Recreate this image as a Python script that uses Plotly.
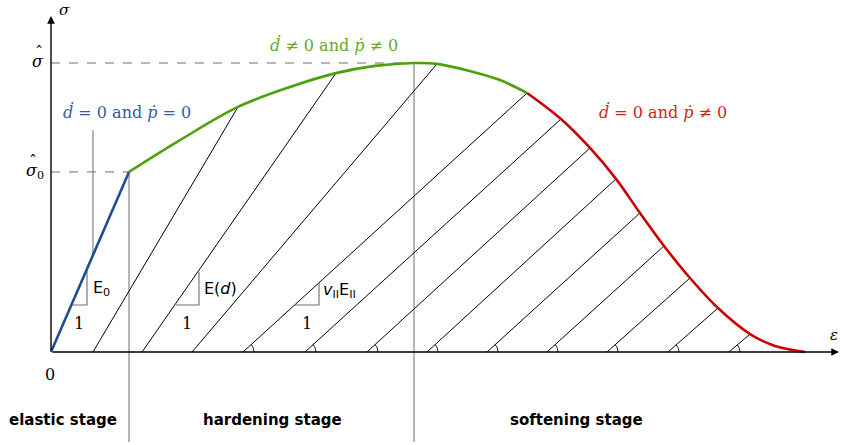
import math
import plotly.graph_objects as go

# --- stress-strain envelope (strain eps, normalised stress sigma) ---
eps_elastic = [0.0, 1.0]
sig_elastic = [0.0, 0.623]

eps_harden = [1.0, 1.654, 2.397, 3.064, 3.654, 4.154, 4.654, 4.949, 5.372, 5.756, 6.103]
sig_harden = [0.623, 0.733, 0.848, 0.917, 0.965, 0.990, 1.000, 0.997, 0.972, 0.941, 0.896]

eps_soften = [6.103, 6.538, 6.910, 7.244, 7.551, 7.859, 8.192, 8.551, 8.962, 9.282, 9.667]
sig_soften = [0.896, 0.806, 0.706, 0.599, 0.481, 0.367, 0.256, 0.152, 0.062, 0.021, 0.0]

# characteristic levels
sig_peak = 1.0
sig_yield = 0.623
eps_yield = 1.0
eps_peak = 4.654

# unloading lines: residual strain on the axis -> point on the envelope
unload_eps0 = [0.538, 1.167, 1.808, 2.462, 3.256, 4.051, 4.821, 5.590, 6.359, 7.128, 7.910, 8.692]
unload_eps1 = [2.397, 3.654, 4.949, 6.103, 6.538, 6.910, 7.244, 7.551, 7.859, 8.192, 8.551, 8.962]
unload_sig1 = [0.848, 0.965, 0.997, 0.896, 0.806, 0.706, 0.599, 0.481, 0.367, 0.256, 0.152, 0.062]
angle_marked = [False, False, False, True, True, True, True, True, True, True, True, True]

stage_names = ["elastic stage", "hardening stage", "softening stage"]

# --- canvas / scale ---
W, H = 841, 445
OX, OY = 51, 352          # pixel position of the origin
KX, KY = 78.0, 289.0      # pixels per unit strain / stress

x_range = [-OX / KX, (W - OX) / KX]
y_range = [-(H - OY) / KY, OY / KY]


def px(dx):
    return dx / KX


def py(dy):
    return dy / KY


BLUE = "rgb(33,76,150)"
GREEN = "rgb(76,160,12)"
RED = "rgb(204,0,0)"
GREY = "rgb(110,110,110)"
SERIF = "DejaVu Serif"
SANS = "DejaVu Sans"

fig = go.Figure()


def seg(x, y, color="black", width=0.9, dash=None, shape="linear"):
    fig.add_trace(go.Scatter(x=x, y=y, mode="lines", hoverinfo="skip",
                             line=dict(color=color, width=width, dash=dash, shape=shape)))


# guide lines
seg([0, eps_peak], [sig_peak, sig_peak], GREY, 1, "dash")
seg([0, eps_yield], [sig_yield, sig_yield], GREY, 1, "dash")
seg([eps_yield, eps_yield], [sig_yield, y_range[0] + py(3)], GREY, 1)
seg([eps_peak, eps_peak], [sig_peak, y_range[0] + py(3)], GREY, 1)
seg([0.538, 0.538], [0.768, 0.336], GREY, 1)

# unloading / hatching lines with angle marks
for e0, e1, s1, mark in zip(unload_eps0, unload_eps1, unload_sig1, angle_marked):
    seg([e0, e1], [0, s1], "black", 1.0)
    if mark:
        ang = math.atan2(s1 * KY, (e1 - e0) * KX)
        r = 11.0
        n = 16
        ax = [e0 + px(r * math.cos(ang * i / n)) for i in range(n + 1)]
        ay = [py(r * math.sin(ang * i / n)) for i in range(n + 1)]
        seg(ax, ay, "black", 0.9)

# slope triangles
tri_pts = [
    # (x_left, x_right, y_base, y_top) in data units
    (px(72 - OX), px(87 - OX), py(OY - 305), py(OY - 268)),
    (px(176 - OX), px(199 - OX), py(OY - 305), py(OY - 272)),
    (px(295 - OX), px(319 - OX), py(OY - 305), py(OY - 283)),
]
for xl, xr, yb, yt in tri_pts:
    seg([xl, xr, xr], [yb, yb, yt], GREY, 1.1)

# envelope
seg(eps_harden, sig_harden, GREEN, 2.6, shape="spline")
seg(eps_soften, sig_soften, RED, 2.6, shape="spline")
seg(eps_elastic, sig_elastic, BLUE, 2.6)

# axes with arrow heads
for (x0, y0, x1, y1) in [(0, 0, x_range[1] - px(2), 0), (0, 0, 0, y_range[1] - py(16))]:
    fig.add_annotation(x=x1, y=y1, ax=x0, ay=y0, xref="x", yref="y", axref="x", ayref="y",
                       text="", showarrow=True, arrowhead=2, arrowsize=1.1, arrowwidth=1.4,
                       arrowcolor="black")


def label(x, y, text, size=16, color="black", family=SERIF, xanchor="center"):
    fig.add_annotation(x=x, y=y, xref="x", yref="y", text=text, showarrow=False,
                       xanchor=xanchor, yanchor="middle",
                       font=dict(family=family, size=size, color=color))


def at(pxx, pyy):
    return (pxx - OX) / KX, (OY - pyy) / KY


label(*at(64, 10), "<i>σ</i>", 15)
label(*at(834, 335), "<i>ε</i>", 15)
label(*at(50, 374), "0", 16)

# sigma-hat labels: the hat is set as its own glyph above the sigma
label(*at(46, 61), "<i>σ</i>", 16, xanchor="right")
label(*at(39, 52), "ˆ", 16)
label(*at(46, 171), "<i>σ</i><sub>0</sub>", 16, xanchor="right")
label(*at(33, 161), "ˆ", 16)

label(*at(127, 112), "<i>ḋ</i> = 0 and <i>ṗ</i> = 0", 16, "rgb(55,90,160)")
label(*at(334, 45), "<i>ḋ</i> ≠ 0 and <i>ṗ</i> ≠ 0", 16, "rgb(100,170,40)")
label(*at(663, 112), "<i>ḋ</i> = 0 and <i>ṗ</i> ≠ 0", 16, "rgb(210,35,35)")

label(*at(91, 288), "E<sub>0</sub>", 16, family=SANS, xanchor="left")
label(*at(79, 323), "1", 16)
label(*at(202, 288), "E(<i>d</i>)", 16, family=SANS, xanchor="left")
label(*at(187, 323), "1", 16)
label(*at(321, 290), "<i>v</i><sub>II</sub>E<sub>II</sub>", 16, family=SANS, xanchor="left")
label(*at(307, 323), "1", 16)

for name, cx in zip(stage_names, [63, 272, 576]):
    label(*at(cx, 420), "<b>%s</b>" % name, 15, family=SANS)

fig.update_layout(
    width=W, height=H, margin=dict(l=0, r=0, t=0, b=0),
    paper_bgcolor="white", plot_bgcolor="white", showlegend=False,
    xaxis=dict(range=x_range, visible=False, fixedrange=True),
    yaxis=dict(range=y_range, visible=False, fixedrange=True),
)

fig.write_html("out.html")
